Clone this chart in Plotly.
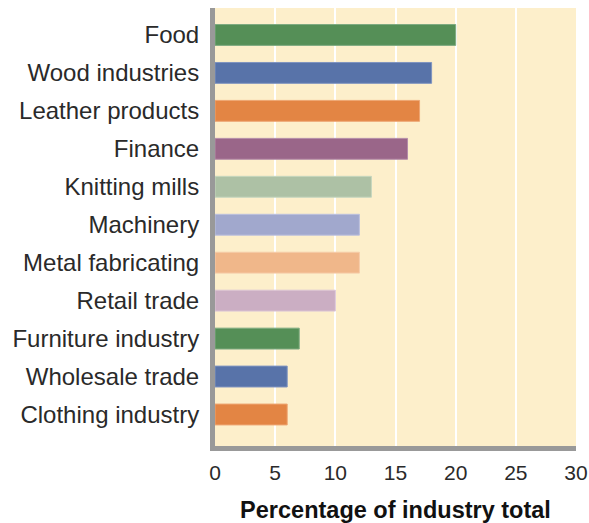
import plotly.graph_objects as go

# Industries listed bottom-to-top as they appear on the category axis
industries = [
    "Clothing industry", "Wholesale trade", "Furniture industry", "Retail trade",
    "Metal fabricating", "Machinery", "Knitting mills", "Finance",
    "Leather products", "Wood industries", "Food",
]
percent = [6, 6, 7, 10, 12, 12, 13, 16, 17, 18, 20]
bar_colors = [
    "#e38544", "#5873a9", "#558f57", "#cbaec3",
    "#f0b78a", "#a1a8cd", "#adc1a5", "#9a6689",
    "#e38544", "#5873a9", "#558f57",
]
edge_colors = [
    "#eea673", "#7f94c0", "#7fab81", "#dcc6d6",
    "#f6cca9", "#bcc1de", "#c6d6bf", "#b48ca8",
    "#eea673", "#7f94c0", "#7fab81",
]
x_ticks = [0, 5, 10, 15, 20, 25, 30]

fig = go.Figure(
    go.Bar(
        x=percent,
        y=industries,
        orientation="h",
        width=0.55,
        marker=dict(color=bar_colors, line=dict(color=edge_colors, width=1)),
        hoverinfo="x+y",
    )
)

fig.update_layout(
    width=589,
    height=523,
    margin=dict(l=215, r=13, t=8, b=77),
    paper_bgcolor="white",
    plot_bgcolor="#fdefcb",
    showlegend=False,
    font=dict(family="Liberation Sans, Arial, sans-serif", color="#1a1a1a"),
)

fig.update_xaxes(
    range=[0, 30],
    tickvals=x_ticks,
    automargin=False,
    showgrid=True,
    gridcolor="white",
    gridwidth=1.5,
    zeroline=False,
    showline=True,
    linecolor="#999999",
    linewidth=5,
    ticks="",
    ticklabelstandoff=4,
    tickfont=dict(size=21, color="#2a2a2a"),
    title=dict(
        text="<b>Percentage of industry total</b>",
        font=dict(size=23.5, color="#111111"),
        standoff=20,
    ),
)

fig.update_yaxes(
    type="category",
    categoryorder="array",
    categoryarray=industries,
    range=[-0.83, 10.71],
    automargin=False,
    showgrid=False,
    zeroline=False,
    showline=True,
    linecolor="#999999",
    linewidth=5,
    ticks="",
    ticklabelstandoff=6,
    tickfont=dict(size=24, color="#2a2a2a"),
)

fig.write_html("out.html")
